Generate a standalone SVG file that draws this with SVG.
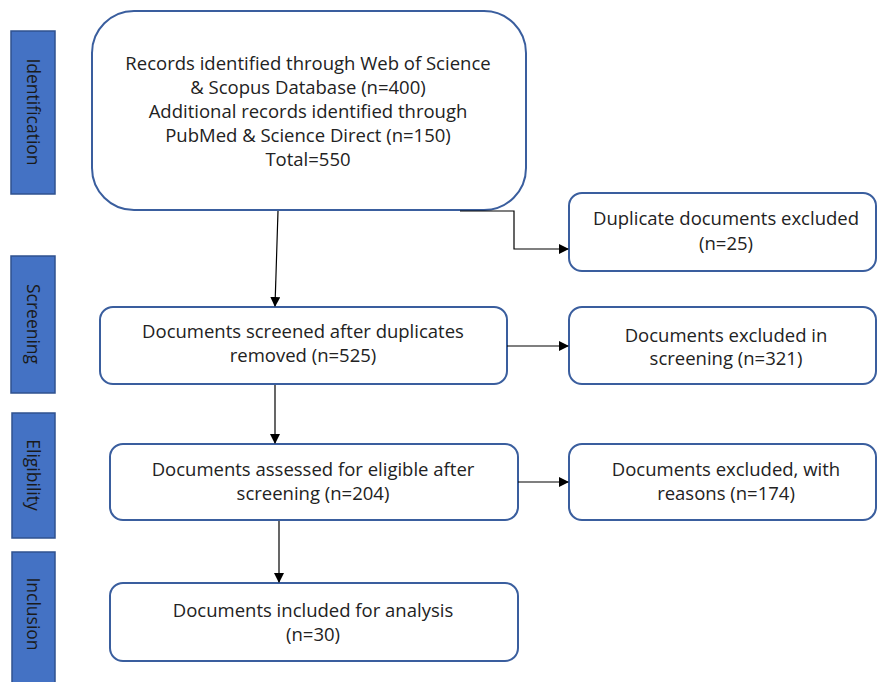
<svg xmlns="http://www.w3.org/2000/svg" width="877" height="682" viewBox="0 0 877 682">
<defs>
<marker id="arr" markerWidth="10" markerHeight="10" refX="9" refY="5" orient="auto" markerUnits="userSpaceOnUse"><path d="M0,0 L10,5 L0,10 Z" fill="#000"/></marker>
<style>
.bar{fill:#4472C4;stroke:#2F528F;stroke-width:1.5}
.box{fill:#fff;stroke:#3A5E9E;stroke-width:2}
.t{font-family:"Open Sans","Noto Sans","DejaVu Sans",sans-serif;font-size:18.5px;fill:#222;text-anchor:middle}
.bt{font-family:"Open Sans","Noto Sans","DejaVu Sans",sans-serif;font-size:17.5px;fill:#1a1a1a;text-anchor:middle}
.c{fill:none;stroke:#000;stroke-width:1.2}
</style>
</defs>
<rect width="877" height="682" fill="#fff"/>
<g id="stage-identification"><rect class="bar" x="11" y="31" width="44" height="163"/><text class="bt" transform="translate(33,112) rotate(90)" dy="6">Identification</text></g>
<g id="stage-screening"><rect class="bar" x="11" y="256" width="44" height="137"/><text class="bt" transform="translate(33,324) rotate(90)" dy="6">Screening</text></g>
<g id="stage-eligibility"><rect class="bar" x="12" y="413" width="43" height="125"/><text class="bt" transform="translate(33,475) rotate(90)" dy="6">Eligibility</text></g>
<g id="stage-inclusion"><rect class="bar" x="12" y="552" width="43" height="140"/><text class="bt" transform="translate(33,614) rotate(90)" dy="6">Inclusion</text></g>
<g id="records"><rect class="box" x="92" y="11" width="434" height="199" rx="42"/>
<text class="t" x="308" y="70">Records identified through Web of Science</text>
<text class="t" x="308" y="94">&amp; Scopus Database (n=400)</text>
<text class="t" x="308" y="118">Additional records identified through</text>
<text class="t" x="308" y="142">PubMed &amp; Science Direct (n=150)</text>
<text class="t" x="308" y="166">Total=550</text></g>
<g id="duplicates"><rect class="box" x="569" y="193" width="307" height="78" rx="13"/>
<text class="t" x="726" y="225">Duplicate documents excluded</text>
<text class="t" x="726" y="250">(n=25)</text></g>
<g id="screened"><rect class="box" x="100" y="307" width="407" height="77" rx="13"/>
<text class="t" x="303" y="338">Documents screened after duplicates</text>
<text class="t" x="303" y="362">removed (n=525)</text></g>
<g id="excluded-screening"><rect class="box" x="569" y="307" width="307" height="77" rx="13"/>
<text class="t" x="726" y="342">Documents excluded in</text>
<text class="t" x="726" y="365">screening (n=321)</text></g>
<g id="assessed"><rect class="box" x="110" y="444" width="408" height="76" rx="13"/>
<text class="t" x="313" y="476">Documents assessed for eligible after</text>
<text class="t" x="313" y="500">screening (n=204)</text></g>
<g id="excluded-reasons"><rect class="box" x="569" y="444" width="307" height="76" rx="13"/>
<text class="t" x="726" y="476">Documents excluded, with</text>
<text class="t" x="726" y="500">reasons (n=174)</text></g>
<g id="included"><rect class="box" x="110" y="583" width="408" height="78" rx="13"/>
<text class="t" x="313" y="617">Documents included for analysis</text>
<text class="t" x="313" y="641">(n=30)</text></g>
<g id="connectors">
<path class="c" d="M278,211 L275,306" marker-end="url(#arr)"/>
<path class="c" d="M460,211 H514 V249 H568" marker-end="url(#arr)"/>
<path class="c" d="M507,346 H568" marker-end="url(#arr)"/>
<path class="c" d="M275,385 V443" marker-end="url(#arr)"/>
<path class="c" d="M518,482 H568" marker-end="url(#arr)"/>
<path class="c" d="M279,521 V582" marker-end="url(#arr)"/>
</g>
</svg>
